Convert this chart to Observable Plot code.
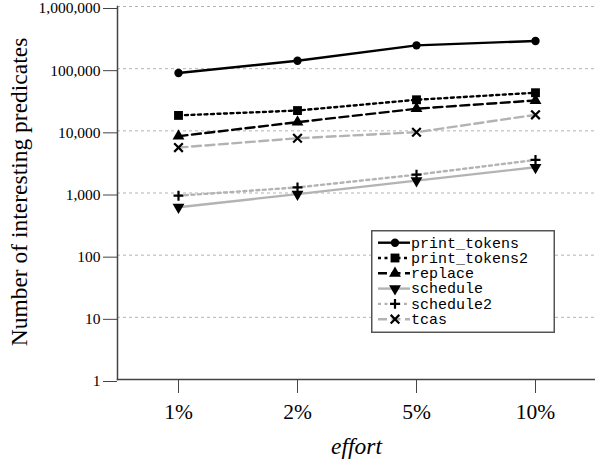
<!DOCTYPE html>
<html>
<head>
<meta charset="utf-8">
<script src="https://cdn.jsdelivr.net/npm/d3@7"></script>
<script src="https://cdn.jsdelivr.net/npm/@observablehq/plot@0.6"></script>
<style>
  html, body { margin: 0; padding: 0; background: #fff; }
  #wrap { position: relative; width: 595px; height: 465px; }
  #legend { position: absolute; left: 371px; top: 230px; }
</style>
</head>
<body>
<div id="wrap"><div id="chart"></div><div id="legend"></div></div>
<script>
const efforts = ["1%", "2%", "5%", "10%"];
const seriesNames = ["print_tokens", "print_tokens2", "replace", "schedule", "schedule2", "tcas"];
const printTokens  = [85000, 134000, 237000, 279000];
const printTokens2 = [17700, 21200, 31600, 41000];
const replaceVals  = [8200, 13800, 22700, 30800];
const scheduleVals = [590, 960, 1580, 2590];
const schedule2Vals = [905, 1230, 1970, 3400];
const tcasVals     = [5380, 7600, 9500, 18100];
const yTicks = [1, 10, 100, 1000, 10000, 100000, 1000000];

const valuesBySeries = [printTokens, printTokens2, replaceVals, scheduleVals, schedule2Vals, tcasVals];
const styles = [
  {stroke: "#000", dash: null, symbol: "circle", r: 4.2, rotate: 0, filled: true},
  {stroke: "#000", dash: "3,3.5", symbol: "square", r: 5, rotate: 0, filled: true},
  {stroke: "#000", dash: "9,4.5", symbol: "triangle", r: 4.4, rotate: 0, filled: true},
  {stroke: "#b3b3b3", dash: null, symbol: "triangle", r: 4.4, rotate: 180, filled: true},
  {stroke: "#b3b3b3", dash: "3,3.5", symbol: "plus", r: 3.3, rotate: 0, filled: false},
  {stroke: "#b3b3b3", dash: "9,4.5", symbol: "times", r: 4, rotate: 0, filled: false}
];

const marks = [];
marks.push(Plot.ruleY(yTicks.slice(1), {stroke: "#aaa", strokeWidth: 0.9, strokeDasharray: "3,3"}));
seriesNames.forEach((name, i) => {
  const data = efforts.map((e, j) => ({effort: e, value: valuesBySeries[i][j]}));
  const s = styles[i];
  marks.push(Plot.line(data, {x: "effort", y: "value", stroke: s.stroke, strokeWidth: 2.4,
    strokeDasharray: s.dash || undefined}));
});
seriesNames.forEach((name, i) => {
  const data = efforts.map((e, j) => ({effort: e, value: valuesBySeries[i][j]}));
  const s = styles[i];
  marks.push(Plot.dot(data, {x: "effort", y: "value", symbol: () => s.symbol, r: s.r, rotate: s.rotate,
    fill: s.filled ? "#000" : "none", stroke: s.filled ? "none" : "#000", strokeWidth: s.filled ? 0 : 2.2}));
});
marks.push(Plot.frame({anchor: "left", stroke: "#444", strokeWidth: 1.5}));
marks.push(Plot.frame({anchor: "bottom", stroke: "#444", strokeWidth: 1.5}));
marks.push(Plot.axisY({ticks: yTicks, tickFormat: d3.format(","), tickSize: 14, tickPadding: 3,
  fontSize: 15.5, dy: 2, label: null, stroke: "#444"}));
marks.push(Plot.axisX({tickSize: 14, tickPadding: 10, fontSize: 21.5, label: null, stroke: "#444"}));
marks.push(Plot.text(["Number of interesting predicates"], {frameAnchor: "left", textAnchor: "middle",
  rotate: -90, dx: -98, dy: -1, fontSize: 23.5, fill: "#000"}));
marks.push(Plot.text(["effort"], {frameAnchor: "bottom", dy: 74, fontSize: 23.5, fontStyle: "italic", fill: "#000"}));

const chart = Plot.plot({
  width: 595, height: 465,
  marginTop: 6, marginBottom: 86, marginLeft: 117, marginRight: 0,
  style: {fontFamily: "'Liberation Serif', 'Times New Roman', serif", color: "#000", background: "#fff"},
  x: {type: "point", domain: efforts, padding: 0.5},
  y: {type: "log", domain: [1, 1000000]},
  marks
});
document.getElementById("chart").appendChild(chart);

// Legend
const lw = 184, lh = 103;
const lsvg = d3.select("#legend").append("svg").attr("width", lw).attr("height", lh)
  .style("display", "block");
lsvg.append("rect").attr("x", 0.75).attr("y", 0.75).attr("width", lw - 1.5).attr("height", lh - 1.5)
  .attr("fill", "#fff").attr("stroke", "#555").attr("stroke-width", 1.5);
const symMap = {circle: d3.symbolCircle, square: d3.symbolSquare, triangle: d3.symbolTriangle,
  plus: d3.symbolPlus, times: d3.symbolTimes};
seriesNames.forEach((name, i) => {
  const s = styles[i];
  const y = 12.7 + i * 15.3;
  const g = lsvg.append("g");
  g.append("line").attr("x1", 7).attr("x2", 39).attr("y1", y).attr("y2", y)
    .attr("stroke", s.stroke).attr("stroke-width", 2.4)
    .attr("stroke-dasharray", s.dash || null);
  g.append("path").attr("d", d3.symbol(symMap[s.symbol], s.r * s.r * Math.PI)())
    .attr("transform", `translate(24,${y}) rotate(${s.rotate})`)
    .attr("fill", s.filled ? "#000" : "none")
    .attr("stroke", s.filled ? "none" : "#000").attr("stroke-width", 2.2);
  g.append("text").attr("x", 40).attr("y", y).attr("dy", "0.32em")
    .attr("font-family", "'Liberation Mono', 'Courier New', monospace")
    .attr("font-size", 15).attr("fill", "#000").text(name);
});
</script>
</body>
</html>
